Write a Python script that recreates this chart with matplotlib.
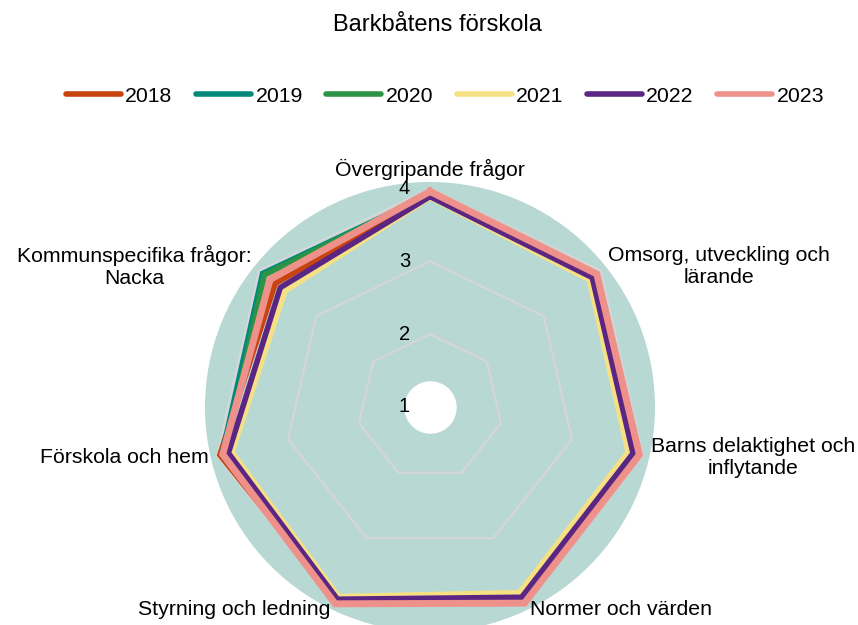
import numpy as np
import matplotlib
matplotlib.use("Agg")
import matplotlib.pyplot as plt
from matplotlib.transforms import offset_copy

plt.rcParams['font.family'] = ['Liberation Sans', 'DejaVu Sans']

title = "Barkbåtens förskola"
categories = ["Övergripande frågor", "Omsorg, utveckling och\nlärande",
              "Barns delaktighet och\ninflytande", "Normer och värden",
              "Styrning och ledning", "Förskola och hem",
              "Kommunspecifika frågor:\nNacka"]
years = ["2018", "2019", "2020", "2021", "2022", "2023"]
v2018 = [3.91, 3.87, 3.88, 3.92, 3.95, 3.96, 3.72]
v2019 = [3.92, 3.88, 3.88, 3.92, 3.95, 3.93, 3.94]
v2020 = [3.92, 3.87, 3.88, 3.92, 3.95, 3.88, 3.91]
v2021 = [3.88, 3.80, 3.79, 3.83, 3.89, 3.79, 3.55]
v2022 = [3.89, 3.85, 3.86, 3.90, 3.93, 3.84, 3.63]
v2023 = [3.96, 3.93, 3.95, 3.99, 4.00, 3.92, 3.81]
series = [v2018, v2019, v2020, v2021, v2022, v2023]
colors = ["#c9430f", "#00897b", "#2e9445", "#f5e184", "#5b2583", "#ef918b"]
ticks = [1, 2, 3, 4]

W, H = 858, 625
fig = plt.figure(figsize=(W / 100, H / 100), dpi=100)
cx, cy, R = 430, 407, 225
ax = fig.add_axes([(cx - R) / W, (H - cy - R) / H, 2 * R / W, 2 * R / H], projection='polar')
ax.set_theta_zero_location('N')
ax.set_theta_direction(-1)
rmax = 4.09
ax.set_ylim(1, rmax)
ax.set_facecolor('#b8d8d4')
ax.spines['polar'].set_visible(False)
ax.grid(False)
ax.set_xticks([])
ax.set_yticks([])

n = len(categories)
ang = np.linspace(0, 2 * np.pi, n, endpoint=False)
angc = np.concatenate([ang, ang[:1]])

for lvl in ticks[1:]:
    ax.plot(angc, [lvl] * (n + 1), color='#d6d6d6', lw=1.6, zorder=1)

for vals, col, yr in zip(series, colors, years):
    lw = 5.0 if yr == "2023" else 4.0
    ax.plot(angc, list(vals) + [vals[0]], color=col, lw=lw, label=yr,
            solid_joinstyle='miter', zorder=2)

th = np.linspace(0, 2 * np.pi, 200)
ax.fill_between(th, 1, 1.36, color='white', zorder=3, lw=0)

tr = offset_copy(ax.transData, fig=fig, x=-20, y=0, units='dots')
for t in ticks:
    ax.text(0, t, str(t), transform=tr, ha='right', va='center', fontsize=14.5, zorder=5)

fs = 15.3
for a, lab in zip(ang, categories):
    s, c = np.sin(a), np.cos(a)
    if abs(s) < 1e-6:
        ha, va = 'center', 'bottom'
        off = offset_copy(ax.transData, fig=fig, x=0, y=2, units='dots')
    elif s > 0:
        ha, va = 'left', 'center'
        off = offset_copy(ax.transData, fig=fig, x=2, y=0, units='dots')
    else:
        ha, va = 'right', 'center'
        off = offset_copy(ax.transData, fig=fig, x=-2, y=0, units='dots')
    ax.text(a, rmax, lab, transform=off, ha=ha, va=va, multialignment='center',
            fontsize=fs, zorder=6, clip_on=False)

fig.text(437 / W, 1 - 25 / H, title, ha='center', va='center', fontsize=17)

handles, labels = ax.get_legend_handles_labels()
leg = fig.legend(handles, labels, loc='center', bbox_to_anchor=(445 / W, 1 - 96 / H),
                 ncol=6, frameon=False, fontsize=fs, handlelength=2.6,
                 handletextpad=0.2, columnspacing=1.1)
for h in leg.get_lines():
    h.set_linewidth(4.0)
    h.set_solid_capstyle('round')

fig.savefig('out.png', dpi=100)
